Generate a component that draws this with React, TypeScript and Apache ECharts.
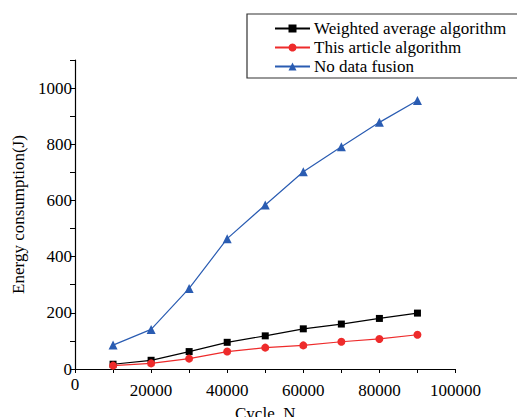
import React, { useEffect, useRef } from "react";
import * as echarts from "echarts";

const cycles = [10000, 20000, 30000, 40000, 50000, 60000, 70000, 80000, 90000];
const weightedAvg = [17, 31, 62, 95, 118, 143, 160, 180, 199];
const thisArticle = [12, 20, 37, 62, 76, 84, 97, 107, 122];
const noFusion = [85, 141, 287, 464, 584, 702, 791, 878, 956];
const seriesNames = ["Weighted average algorithm", "This article algorithm", "No data fusion"];
const yLabels = [0, 200, 400, 600, 800, 1000];
const xLabels = [0, 20000, 40000, 60000, 80000, 100000];

const FONT = "'Liberation Serif', 'Times New Roman', Times, serif";

export default function App() {
  const ref = useRef<HTMLDivElement>(null);
  useEffect(() => {
    if (!ref.current) return;
    const chart = echarts.init(ref.current, null, { renderer: "svg" });
    const mk = (name: string, data: number[], color: string, symbol: string, size: number) => ({
      name,
      type: "line",
      data: cycles.map((c, i) => [c, data[i]]),
      symbol,
      symbolSize: size,
      lineStyle: { color, width: 1.2 },
      itemStyle: { color },
      z: 3,
    });
    const labelStyle = { fontFamily: FONT, fontSize: 17, color: "#000" };
    chart.setOption({
      animation: false,
      backgroundColor: "#fff",
      textStyle: { fontFamily: FONT, fontSize: 17, color: "#000" },
      grid: {
        left: 75,
        right: 61.5,
        top: 60,
        bottom: 48,
        containLabel: false,
        outerBoundsMode: "none",
      },
      legend: {
        left: 247,
        top: 14,
        orient: "vertical",
        data: seriesNames,
        itemWidth: 35,
        itemHeight: 10,
        itemGap: 2,
        padding: [6, 30, 3, 27],
        borderColor: "#333",
        borderWidth: 1.2,
        borderRadius: 0,
        textStyle: { ...labelStyle, padding: [0, 0, 0, -1] },
      },
      xAxis: {
        type: "value",
        min: 0,
        max: 100000,
        interval: 10000,
        name: "Cycle  N",
        nameLocation: "middle",
        nameGap: 36,
        nameTextStyle: labelStyle,
        axisLine: { onZero: false, lineStyle: { color: "#000", width: 1.2 } },
        axisTick: { show: true, inside: false, length: 4, lineStyle: { color: "#000" } },
        splitLine: { show: false },
        axisLabel: {
          ...labelStyle,
          margin: 7,
          hideOverlap: false,
          formatter: (v: number) =>
            xLabels.includes(v) ? (v === 0 ? "{z|0}" : "{n|" + v + "}") : "",
          rich: {
            z: { ...labelStyle, padding: [0, 0, 0, 0] },
            n: { ...labelStyle, padding: [6, 0, 0, 0] },
          },
        },
      },
      yAxis: {
        type: "value",
        min: 0,
        max: 1100,
        interval: 100,
        name: "Energy consumption(J)",
        nameLocation: "middle",
        nameGap: 46,
        nameTextStyle: labelStyle,
        axisLine: { show: true, onZero: false, lineStyle: { color: "#000", width: 1.2 } },
        axisTick: { show: true, inside: false, length: 5, lineStyle: { color: "#000" } },
        splitLine: { show: false },
        axisLabel: {
          ...labelStyle,
          margin: 3,
          formatter: (v: number) => (yLabels.includes(v) ? String(v) : ""),
        },
      },
      series: [
        mk(seriesNames[0], weightedAvg, "#000000", "rect", 7),
        mk(seriesNames[1], thisArticle, "#ee2b2b", "circle", 8),
        mk(seriesNames[2], noFusion, "#2a5cb2", "triangle", 9),
      ],
    });
    return () => chart.dispose();
  }, []);
  return <div ref={ref} style={{ width: 517, height: 417, position: "absolute", left: 0, top: 0 }} />;
}
